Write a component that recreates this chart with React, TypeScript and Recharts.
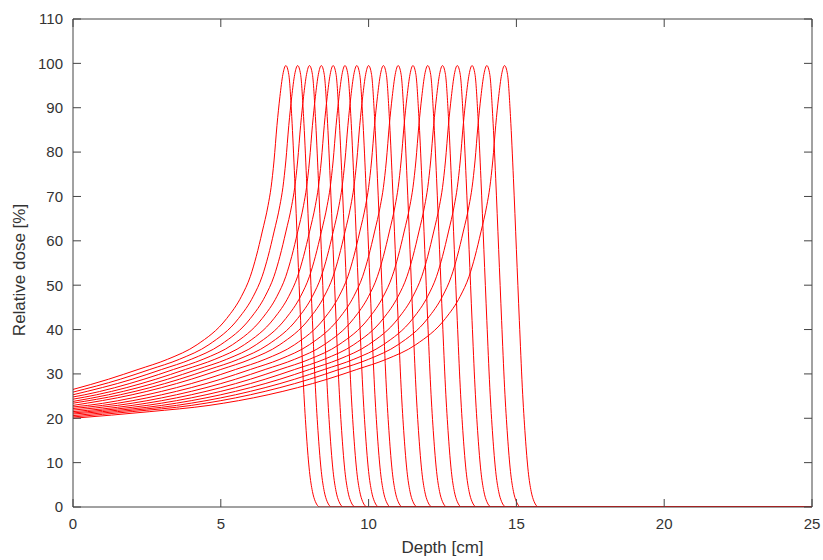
import { Line, LineChart, ReferenceLine, XAxis, YAxis } from 'recharts'

// depth ticks [cm] and relative dose ticks [%]
const DEPTH_TICKS = [0, 5, 10, 15, 20, 25]
const DOSE_TICKS = [0, 10, 20, 30, 40, 50, 60, 70, 80, 90, 100, 110]

// one depth-dose curve per beam energy, [depth cm, dose %]
const PEAK_072 = [[0, 26.5], [1.2, 28.8], [2.2, 31], [3.2, 33.3], [4.2, 36.6], [5.2, 42.5], [5.7, 47.5], [6, 52], [6.2, 56.5], [6.4, 62], [6.6, 68], [6.7, 72], [6.8, 78], [6.9, 86], [7, 92.5], [7.1, 97.5], [7.2, 99.5], [7.3, 97.5], [7.4, 88], [7.5, 74], [7.6, 58], [7.7, 42], [7.8, 27], [7.9, 16], [8, 8], [8.1, 3.5], [8.2, 1.2], [8.35, 0], [25, 0]]
const PEAK_076 = [[0, 25.9], [1.6, 28.8], [2.6, 31], [3.6, 33.3], [4.6, 36.6], [5.6, 42.5], [6.1, 47.5], [6.4, 52], [6.6, 56.5], [6.8, 62], [7, 68], [7.1, 72], [7.2, 78], [7.3, 86], [7.4, 92.5], [7.5, 97.5], [7.6, 99.5], [7.7, 97.5], [7.8, 88], [7.9, 74], [8, 58], [8.1, 42], [8.2, 27], [8.3, 16], [8.4, 8], [8.5, 3.5], [8.6, 1.2], [8.75, 0], [25, 0]]
const PEAK_080 = [[0, 25.3], [2, 28.8], [3, 31], [4, 33.3], [5, 36.6], [6, 42.5], [6.5, 47.5], [6.8, 52], [7, 56.5], [7.2, 62], [7.4, 68], [7.5, 72], [7.6, 78], [7.7, 86], [7.8, 92.5], [7.9, 97.5], [8, 99.5], [8.1, 97.5], [8.2, 88], [8.3, 74], [8.4, 58], [8.5, 42], [8.6, 27], [8.7, 16], [8.8, 8], [8.9, 3.5], [9, 1.2], [9.15, 0], [25, 0]]
const PEAK_084 = [[0, 24.8], [0.4, 25.3], [2.4, 28.8], [3.4, 31], [4.4, 33.3], [5.4, 36.6], [6.4, 42.5], [6.9, 47.5], [7.2, 52], [7.4, 56.5], [7.6, 62], [7.8, 68], [7.9, 72], [8, 78], [8.1, 86], [8.2, 92.5], [8.3, 97.5], [8.4, 99.5], [8.5, 97.5], [8.6, 88], [8.7, 74], [8.8, 58], [8.9, 42], [9, 27], [9.1, 16], [9.2, 8], [9.3, 3.5], [9.4, 1.2], [9.55, 0], [25, 0]]
const PEAK_088 = [[0, 24.3], [0.8, 25.3], [2.8, 28.8], [3.8, 31], [4.8, 33.3], [5.8, 36.6], [6.8, 42.5], [7.3, 47.5], [7.6, 52], [7.8, 56.5], [8, 62], [8.2, 68], [8.3, 72], [8.4, 78], [8.5, 86], [8.6, 92.5], [8.7, 97.5], [8.8, 99.5], [8.9, 97.5], [9, 88], [9.1, 74], [9.2, 58], [9.3, 42], [9.4, 27], [9.5, 16], [9.6, 8], [9.7, 3.5], [9.8, 1.2], [9.95, 0], [25, 0]]
const PEAK_092 = [[0, 23.8], [1.2, 25.3], [3.2, 28.8], [4.2, 31], [5.2, 33.3], [6.2, 36.6], [7.2, 42.5], [7.7, 47.5], [8, 52], [8.2, 56.5], [8.4, 62], [8.6, 68], [8.7, 72], [8.8, 78], [8.9, 86], [9, 92.5], [9.1, 97.5], [9.2, 99.5], [9.3, 97.5], [9.4, 88], [9.5, 74], [9.6, 58], [9.7, 42], [9.8, 27], [9.9, 16], [10, 8], [10.1, 3.5], [10.2, 1.2], [10.35, 0], [25, 0]]
const PEAK_096 = [[0, 23.4], [1.6, 25.3], [3.6, 28.8], [4.6, 31], [5.6, 33.3], [6.6, 36.6], [7.6, 42.5], [8.1, 47.5], [8.4, 52], [8.6, 56.5], [8.8, 62], [9, 68], [9.1, 72], [9.2, 78], [9.3, 86], [9.4, 92.5], [9.5, 97.5], [9.6, 99.5], [9.7, 97.5], [9.8, 88], [9.9, 74], [10, 58], [10.1, 42], [10.2, 27], [10.3, 16], [10.4, 8], [10.5, 3.5], [10.6, 1.2], [10.75, 0], [25, 0]]
const PEAK_100 = [[0, 22.9], [2, 25.3], [4, 28.8], [5, 31], [6, 33.3], [7, 36.6], [8, 42.5], [8.5, 47.5], [8.8, 52], [9, 56.5], [9.2, 62], [9.4, 68], [9.5, 72], [9.6, 78], [9.7, 86], [9.8, 92.5], [9.9, 97.5], [10, 99.5], [10.1, 97.5], [10.2, 88], [10.3, 74], [10.4, 58], [10.5, 42], [10.6, 27], [10.7, 16], [10.8, 8], [10.9, 3.5], [11, 1.2], [11.15, 0], [25, 0]]
const PEAK_105 = [[0, 22.55], [0.5, 22.9], [2.5, 25.3], [4.5, 28.8], [5.5, 31], [6.5, 33.3], [7.5, 36.6], [8.5, 42.5], [9, 47.5], [9.3, 52], [9.5, 56.5], [9.7, 62], [9.9, 68], [10, 72], [10.1, 78], [10.2, 86], [10.3, 92.5], [10.4, 97.5], [10.5, 99.5], [10.6, 97.5], [10.7, 88], [10.8, 74], [10.9, 58], [11, 42], [11.1, 27], [11.2, 16], [11.3, 8], [11.4, 3.5], [11.5, 1.2], [11.65, 0], [25, 0]]
const PEAK_110 = [[0, 22.2], [1, 22.9], [3, 25.3], [5, 28.8], [6, 31], [7, 33.3], [8, 36.6], [9, 42.5], [9.5, 47.5], [9.8, 52], [10, 56.5], [10.2, 62], [10.4, 68], [10.5, 72], [10.6, 78], [10.7, 86], [10.8, 92.5], [10.9, 97.5], [11, 99.5], [11.1, 97.5], [11.2, 88], [11.3, 74], [11.4, 58], [11.5, 42], [11.6, 27], [11.7, 16], [11.8, 8], [11.9, 3.5], [12, 1.2], [12.15, 0], [25, 0]]
const PEAK_115 = [[0, 21.85], [1.5, 22.9], [3.5, 25.3], [5.5, 28.8], [6.5, 31], [7.5, 33.3], [8.5, 36.6], [9.5, 42.5], [10, 47.5], [10.3, 52], [10.5, 56.5], [10.7, 62], [10.9, 68], [11, 72], [11.1, 78], [11.2, 86], [11.3, 92.5], [11.4, 97.5], [11.5, 99.5], [11.6, 97.5], [11.7, 88], [11.8, 74], [11.9, 58], [12, 42], [12.1, 27], [12.2, 16], [12.3, 8], [12.4, 3.5], [12.5, 1.2], [12.65, 0], [25, 0]]
const PEAK_120 = [[0, 21.5], [2, 22.9], [4, 25.3], [6, 28.8], [7, 31], [8, 33.3], [9, 36.6], [10, 42.5], [10.5, 47.5], [10.8, 52], [11, 56.5], [11.2, 62], [11.4, 68], [11.5, 72], [11.6, 78], [11.7, 86], [11.8, 92.5], [11.9, 97.5], [12, 99.5], [12.1, 97.5], [12.2, 88], [12.3, 74], [12.4, 58], [12.5, 42], [12.6, 27], [12.7, 16], [12.8, 8], [12.9, 3.5], [13, 1.2], [13.15, 0], [25, 0]]
const PEAK_125 = [[0, 21.2], [0.5, 21.5], [2.5, 22.9], [4.5, 25.3], [6.5, 28.8], [7.5, 31], [8.5, 33.3], [9.5, 36.6], [10.5, 42.5], [11, 47.5], [11.3, 52], [11.5, 56.5], [11.7, 62], [11.9, 68], [12, 72], [12.1, 78], [12.2, 86], [12.3, 92.5], [12.4, 97.5], [12.5, 99.5], [12.6, 97.5], [12.7, 88], [12.8, 74], [12.9, 58], [13, 42], [13.1, 27], [13.2, 16], [13.3, 8], [13.4, 3.5], [13.5, 1.2], [13.65, 0], [25, 0]]
const PEAK_130 = [[0, 20.95], [1, 21.5], [3, 22.9], [5, 25.3], [7, 28.8], [8, 31], [9, 33.3], [10, 36.6], [11, 42.5], [11.5, 47.5], [11.8, 52], [12, 56.5], [12.2, 62], [12.4, 68], [12.5, 72], [12.6, 78], [12.7, 86], [12.8, 92.5], [12.9, 97.5], [13, 99.5], [13.1, 97.5], [13.2, 88], [13.3, 74], [13.4, 58], [13.5, 42], [13.6, 27], [13.7, 16], [13.8, 8], [13.9, 3.5], [14, 1.2], [14.15, 0], [25, 0]]
const PEAK_135 = [[0, 20.6], [1.5, 21.5], [3.5, 22.9], [5.5, 25.3], [7.5, 28.8], [8.5, 31], [9.5, 33.3], [10.5, 36.6], [11.5, 42.5], [12, 47.5], [12.3, 52], [12.5, 56.5], [12.7, 62], [12.9, 68], [13, 72], [13.1, 78], [13.2, 86], [13.3, 92.5], [13.4, 97.5], [13.5, 99.5], [13.6, 97.5], [13.7, 88], [13.8, 74], [13.9, 58], [14, 42], [14.1, 27], [14.2, 16], [14.3, 8], [14.4, 3.5], [14.5, 1.2], [14.65, 0], [25, 0]]
const PEAK_140 = [[0, 20.3], [2, 21.5], [4, 22.9], [6, 25.3], [8, 28.8], [9, 31], [10, 33.3], [11, 36.6], [12, 42.5], [12.5, 47.5], [12.8, 52], [13, 56.5], [13.2, 62], [13.4, 68], [13.5, 72], [13.6, 78], [13.7, 86], [13.8, 92.5], [13.9, 97.5], [14, 99.5], [14.1, 97.5], [14.2, 88], [14.3, 74], [14.4, 58], [14.5, 42], [14.6, 27], [14.7, 16], [14.8, 8], [14.9, 3.5], [15, 1.2], [15.15, 0], [25, 0]]
const PEAK_146 = [[0, 20], [2.6, 21.5], [4.6, 22.9], [6.6, 25.3], [8.6, 28.8], [9.6, 31], [10.6, 33.3], [11.6, 36.6], [12.6, 42.5], [13.1, 47.5], [13.4, 52], [13.6, 56.5], [13.8, 62], [14, 68], [14.1, 72], [14.2, 78], [14.3, 86], [14.4, 92.5], [14.5, 97.5], [14.6, 99.5], [14.7, 97.5], [14.8, 88], [14.9, 74], [15, 58], [15.1, 42], [15.2, 27], [15.3, 16], [15.4, 8], [15.5, 3.5], [15.6, 1.2], [15.75, 0], [25, 0]]

const CURVES = [
  PEAK_072, PEAK_076, PEAK_080, PEAK_084, PEAK_088, PEAK_092, PEAK_096, PEAK_100, PEAK_105,
  PEAK_110, PEAK_115, PEAK_120, PEAK_125, PEAK_130, PEAK_135, PEAK_140, PEAK_146,
]

const FONT = '"Liberation Sans", Arial, sans-serif'
const TEXT = '#333'
const FRAME = '#444'
// plot box edges in px
const LEFT = 73
const RIGHT = 812
const TOP = 19
const BOTTOM = 507

const YTick = ({ y, payload }: any) => (
  <g>
    <line x1={LEFT} x2={LEFT + 8} y1={y} y2={y} stroke={FRAME} />
    <line x1={RIGHT} x2={RIGHT - 8} y1={y} y2={y} stroke={FRAME} />
    <text x={LEFT - 10} y={y} dy="0.36em" textAnchor="end" fill={TEXT} fontSize={15} fontFamily={FONT}>
      {payload.value}
    </text>
  </g>
)

const XTick = ({ x, payload }: any) => (
  <g>
    <line x1={x} x2={x} y1={BOTTOM} y2={BOTTOM - 8} stroke={FRAME} />
    <line x1={x} x2={x} y1={TOP} y2={TOP + 8} stroke={FRAME} />
    <text x={x} y={BOTTOM + 22} textAnchor="middle" fill={TEXT} fontSize={15} fontFamily={FONT}>
      {payload.value}
    </text>
  </g>
)

export default function App() {
  const series = CURVES.map((c) => c.map(([x, y]) => ({ x, y })))

  return (
    <div style={{ position: 'absolute', left: 0, top: 0, width: 823, height: 560, background: '#fff' }}>
      <LineChart
        width={823}
        height={560}
        margin={{ top: TOP, right: 823 - RIGHT, bottom: 0, left: 0 }}
      >
        <XAxis
          dataKey="x"
          type="number"
          domain={[0, 25]}
          ticks={DEPTH_TICKS}
          allowDataOverflow
          height={560 - BOTTOM}
          tickLine={false}
          stroke={FRAME}
          tick={<XTick />}
        />
        <YAxis
          type="number"
          domain={[0, 110]}
          ticks={DOSE_TICKS}
          allowDataOverflow
          width={LEFT}
          tickLine={false}
          stroke={FRAME}
          tick={<YTick />}
        />
        <ReferenceLine y={110} stroke={FRAME} />
        <ReferenceLine x={25} stroke={FRAME} />
        {series.map((d, i) => (
          <Line
            key={i}
            data={d}
            dataKey="y"
            type="monotone"
            stroke="#ff0000"
            strokeWidth={1}
            dot={false}
            isAnimationActive={false}
          />
        ))}
      </LineChart>
      <div
        style={{
          position: 'absolute',
          left: 20,
          top: 270,
          transform: 'translate(-50%, -50%) rotate(-90deg)',
          whiteSpace: 'nowrap',
          fontFamily: FONT,
          fontSize: 17,
          color: TEXT,
        }}
      >
        Relative dose [%]
      </div>
      <div
        style={{
          position: 'absolute',
          left: (LEFT + RIGHT) / 2,
          top: 548,
          transform: 'translate(-50%, -50%)',
          whiteSpace: 'nowrap',
          fontFamily: FONT,
          fontSize: 17,
          color: TEXT,
        }}
      >
        Depth [cm]
      </div>
    </div>
  )
}
